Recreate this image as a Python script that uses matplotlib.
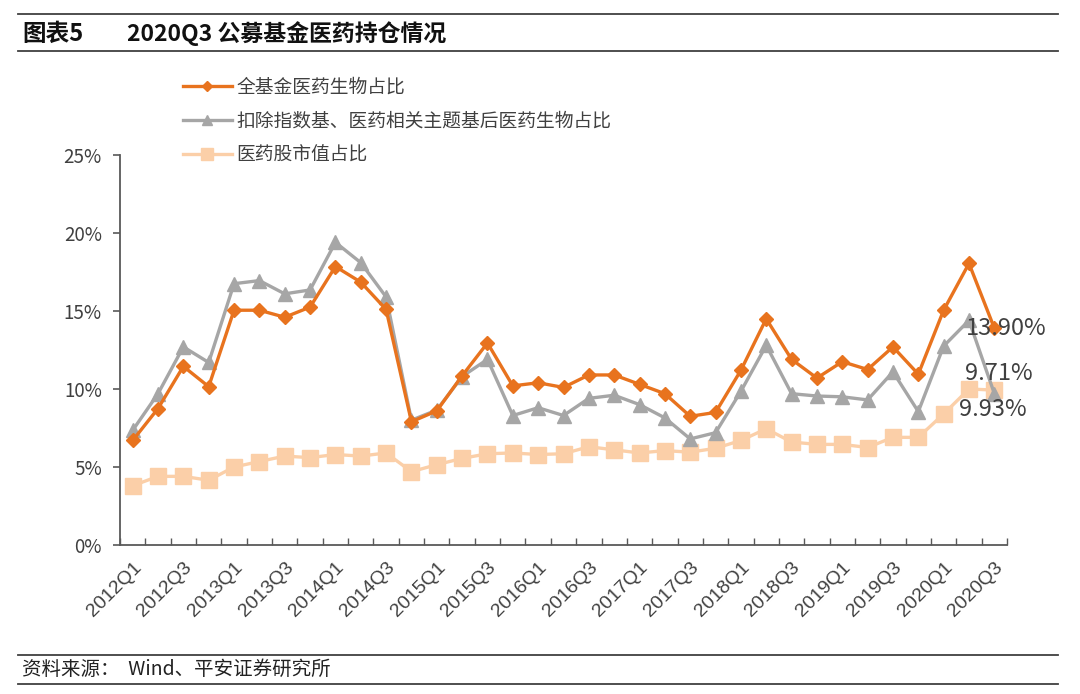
import numpy as np
import matplotlib
matplotlib.use("Agg")
import matplotlib.pyplot as plt
from matplotlib.lines import Line2D

plt.rcParams['font.family'] = ['Noto Sans CJK SC', 'DejaVu Sans']

quarters = [f"{y}Q{q}" for y in range(2012, 2021) for q in range(1, 5)][:35]

all_fund = [6.7, 8.75, 11.45, 10.15, 15.05, 15.05, 14.6, 15.25, 17.85, 16.85, 15.1,
            7.9, 8.6, 10.85, 12.95, 10.2, 10.4, 10.1, 10.9, 10.9, 10.3, 9.7, 8.25,
            8.5, 11.2, 14.5, 11.9, 10.7, 11.75, 11.25, 12.7, 10.95, 15.05, 18.05, 13.90]
ex_index = [7.35, 9.7, 12.7, 11.7, 16.75, 16.95, 16.1, 16.35, 19.4, 18.1, 15.9,
            8.0, 8.65, 10.8, 11.9, 8.3, 8.8, 8.3, 9.4, 9.6, 9.0, 8.15, 6.8,
            7.2, 9.85, 12.8, 9.7, 9.55, 9.5, 9.3, 11.1, 8.55, 12.75, 14.4, 9.71]
mkt_cap = [3.8, 4.4, 4.4, 4.15, 5.0, 5.35, 5.7, 5.6, 5.8, 5.7, 5.9,
           4.7, 5.15, 5.55, 5.85, 5.9, 5.8, 5.85, 6.3, 6.1, 5.9, 6.05, 5.95,
           6.2, 6.7, 7.45, 6.6, 6.45, 6.45, 6.25, 6.9, 6.9, 8.4, 10.0, 9.93]

series_names = ["全基金医药生物占比", "扣除指数基、医药相关主题基后医药生物占比", "医药股市值占比"]
y_ticks = [0, 5, 10, 15, 20, 25]

c_orange = "#E8731E"
c_gray = "#A6A6A6"
c_light = "#FBCFA8"

fig = plt.figure(figsize=(10.8, 6.94), dpi=100)
W, H = 1080, 694
ax = fig.add_axes([120 / W, 1 - 545 / H, (1007 - 120) / W, (545 - 155) / H])

x = np.arange(len(quarters))
ax.plot(x, mkt_cap, color=c_light, lw=2.4, marker='s', ms=11, mec=c_light, mfc=c_light, zorder=2)
ax.plot(x, ex_index, color=c_gray, lw=2.4, marker='^', ms=10, mec=c_gray, mfc=c_gray, zorder=3)
ax.plot(x, all_fund, color=c_orange, lw=2.4, marker='D', ms=7.5, mec=c_orange, mfc=c_orange, zorder=4)

ax.set_xlim(-0.5, len(quarters) - 0.5)
ax.set_ylim(0, 25)
ax.set_yticks(y_ticks)
ax.set_yticklabels([f"{v}%" for v in y_ticks], fontsize=13.5, color="#404040")
ax.tick_params(axis='y', direction='out', length=5, width=1.2, color="#595959", pad=8)

ax.set_xticks(x[::2])
ax.set_xticklabels([quarters[i] for i in x[::2]], rotation=45, ha='right', va='top',
                   rotation_mode='anchor', fontsize=14, family='Liberation Sans', color="#404040")
ax.tick_params(axis='x', which='major', length=0, pad=10)
ax.set_xticks(np.arange(-0.5, len(quarters), 1), minor=True)
ax.tick_params(axis='x', which='minor', direction='in', length=5, width=1.0, color="#595959")

for s in ['top', 'right']:
    ax.spines[s].set_visible(False)
for s in ['left', 'bottom']:
    ax.spines[s].set_color("#595959")
    ax.spines[s].set_linewidth(1.3)

last = len(quarters) - 1
ax.annotate(f"{all_fund[-1]:.2f}%", (x[last], all_fund[-1]), xytext=(12, 0), textcoords='offset pixels',
            ha='center', va='center', fontsize=17, color="#404040", zorder=6)
ax.annotate(f"{ex_index[-1]:.2f}%", (x[last], ex_index[-1]), xytext=(4, 20), textcoords='offset pixels',
            ha='center', va='center', fontsize=17, color="#404040", zorder=6)
ax.annotate(f"{mkt_cap[-1]:.2f}%", (x[last], mkt_cap[-1]), xytext=(-2, -19), textcoords='offset pixels',
            ha='center', va='center', fontsize=17, color="#404040", zorder=6)

handles = [
    Line2D([], [], color=c_orange, lw=2.4, marker='D', ms=5, mec=c_orange, mfc=c_orange),
    Line2D([], [], color=c_gray, lw=2.4, marker='^', ms=7, mec=c_gray, mfc=c_gray),
    Line2D([], [], color=c_light, lw=2.4, marker='s', ms=8, mec=c_light, mfc=c_light),
]
fig.legend(handles, series_names, loc='upper left', bbox_to_anchor=(183 / W, 1 - 77 / H),
           frameon=False, fontsize=13.5, handlelength=2.6, handletextpad=0.25, labelspacing=0.68,
           labelcolor="#404040", borderaxespad=0, borderpad=0)

# Header and footer rules/text
for yy in [14, 51, 655, 684]:
    fig.add_artist(Line2D([18 / W, 1058 / W], [1 - yy / H, 1 - yy / H], color="#404040", lw=1.3))
fig.text(22 / W, 1 - 34 / H, "图表5", fontsize=17, fontweight='bold', va='center', ha='left', color="#111111")
fig.text(127 / W, 1 - 34 / H, "2020Q3 公募基金医药持仓情况", fontsize=16.5, fontweight='bold',
         va='center', ha='left', color="#111111")
fig.text(22 / W, 1 - 669 / H, "资料来源：  Wind、平安证券研究所", fontsize=14, style='italic',
         va='center', ha='left', color="#222222")

fig.savefig("out.png", dpi=100)
